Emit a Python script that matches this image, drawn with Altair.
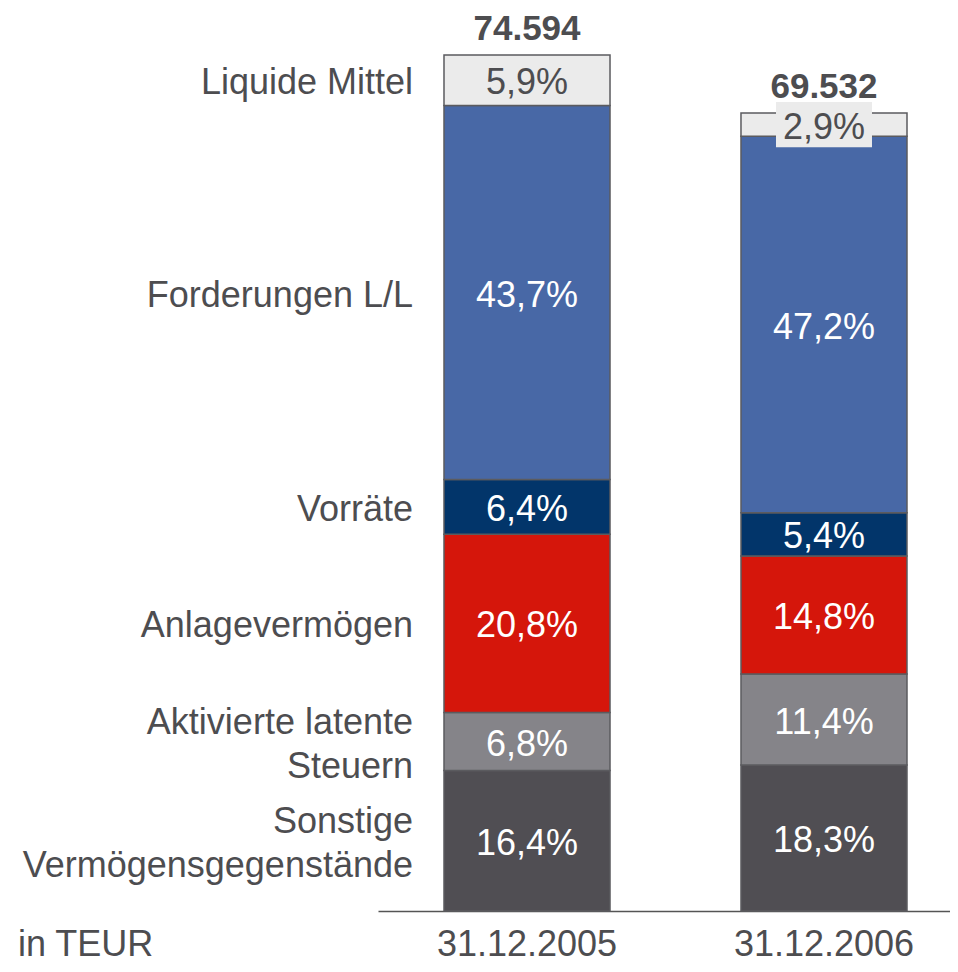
import altair as alt
import pandas as pd

dates = ["31.12.2005", "31.12.2006"]
totals = [74594, 69532]
total_labels = ["74.594", "69.532"]
categories = [
    "Sonstige Vermögensgegenstände",
    "Aktivierte latente Steuern",
    "Anlagevermögen",
    "Vorräte",
    "Forderungen L/L",
    "Liquide Mittel",
]
category_labels = [
    "Sonstige\nVermögensgegenstände",
    "Aktivierte latente\nSteuern",
    "Anlagevermögen",
    "Vorräte",
    "Forderungen L/L",
    "Liquide Mittel",
]
pct_2005 = [16.4, 6.8, 20.8, 6.4, 43.7, 5.9]
pct_2006 = [18.3, 11.4, 14.8, 5.4, 47.2, 2.9]
colors = ["#504E53", "#858489", "#D5160B", "#02356A", "#4868A6", "#EBEBEB"]
label_colors = ["white", "white", "white", "white", "white", "#4D4D50"]

rows = []
for d, tot, pcts in zip(dates, totals, [pct_2005, pct_2006]):
    for i, (c, cl, p) in enumerate(zip(categories, category_labels, pcts)):
        rows.append({
            "date": d,
            "cat": c,
            "catlabel": cl,
            "multi": "\n" in cl,
            "order": i,
            "pct": p,
            "value": p / 100 * tot,
            "plabel": f"{p:.1f}".replace(".", ",") + "%",
            "small": p < 4,
        })
df = pd.DataFrame(rows)
tot_df = pd.DataFrame({"date": dates, "total": totals, "tlabel": total_labels})

FONT = "Liberation Sans"
GREY = "#4D4D50"
FS = 36
W, H = 572, 903
YMAX = 78690

xscale = alt.Scale(domain=dates, paddingInner=0.441, paddingOuter=0.1835, align=0.6055)
yscale = alt.Scale(domain=[0, YMAX], nice=False, zero=True)

x_enc = alt.X("date:N", scale=xscale, sort=dates,
              axis=alt.Axis(title=None, labelAngle=0, ticks=False, domainColor="#555555",
                            domainWidth=1.5, labelFontSize=FS, labelColor=GREY,
                            labelFont=FONT, labelPadding=16, labelLimit=0, grid=False))
x_plain = alt.X("date:N", scale=xscale, sort=dates)

base = alt.Chart(df)

bars = base.mark_bar(stroke="#5B5B5F", strokeWidth=1.5).encode(
    x=x_enc,
    y=alt.Y("value:Q", stack="zero", scale=yscale, axis=None),
    order=alt.Order("order:Q"),
    color=alt.Color("cat:N", scale=alt.Scale(domain=categories, range=colors), legend=None),
)

stacked = base.transform_stack(
    stack="value", groupby=["date"], as_=["y0", "y1"],
    sort=[alt.SortField("order", order="ascending")],
).transform_calculate(mid="(datum.y0 + datum.y1) / 2")

label_bg = stacked.transform_filter("datum.small").mark_point(
    shape="M-1,-0.47L1,-0.47L1,0.47L-1,0.47Z", size=9216, filled=True,
    fill="#EBEBEB", opacity=1, strokeWidth=0,
).encode(
    x=x_plain,
    y=alt.Y("mid:Q", scale=yscale, axis=None),
)

pct_text = stacked.mark_text(fontSize=FS, font=FONT, dy=3, baseline="middle").encode(
    x=x_plain,
    y=alt.Y("mid:Q", scale=yscale, axis=None),
    text="plabel:N",
    color=alt.Color("cat:N", scale=alt.Scale(domain=categories, range=label_colors), legend=None),
)

cat_base = stacked.transform_filter(alt.datum.date == dates[0])
cat_single = cat_base.transform_filter("!datum.multi").mark_text(
    fontSize=FS, font=FONT, align="right", baseline="middle", color=GREY, dy=3,
).encode(
    x=alt.value(35),
    y=alt.Y("mid:Q", scale=yscale, axis=None),
    text="catlabel:N",
)
cat_multi = cat_base.transform_filter("datum.multi").mark_text(
    fontSize=FS, font=FONT, align="right", baseline="middle", lineBreak="\n",
    lineHeight=44, color=GREY, dy=-19,
).encode(
    x=alt.value(35),
    y=alt.Y("mid:Q", scale=yscale, axis=None),
    text="catlabel:N",
)

tot_text = alt.Chart(tot_df).mark_text(
    fontSize=35, font=FONT, fontWeight="bold", color=GREY, baseline="top", dy=-43,
).encode(
    x=x_plain,
    y=alt.Y("total:Q", scale=yscale, axis=None),
    text="tlabel:N",
)

unit_text = alt.Chart(pd.DataFrame({"t": ["in TEUR"]})).mark_text(
    fontSize=FS, font=FONT, color=GREY, align="left", baseline="top",
).encode(
    x=alt.value(-360),
    y=alt.value(H + 17),
    text="t:N",
)

chart = alt.layer(bars, label_bg, pct_text, cat_single, cat_multi, tot_text, unit_text).resolve_scale(
    color="independent"
).properties(
    width=W, height=H,
    background="white",
    autosize=alt.AutoSizeParams(type="none"),
    padding={"left": 370, "top": 0, "right": 0, "bottom": 53},
).configure_view(strokeOpacity=0, strokeWidth=0)

chart.save("out.html", embed_options={"renderer": "svg", "actions": False})
